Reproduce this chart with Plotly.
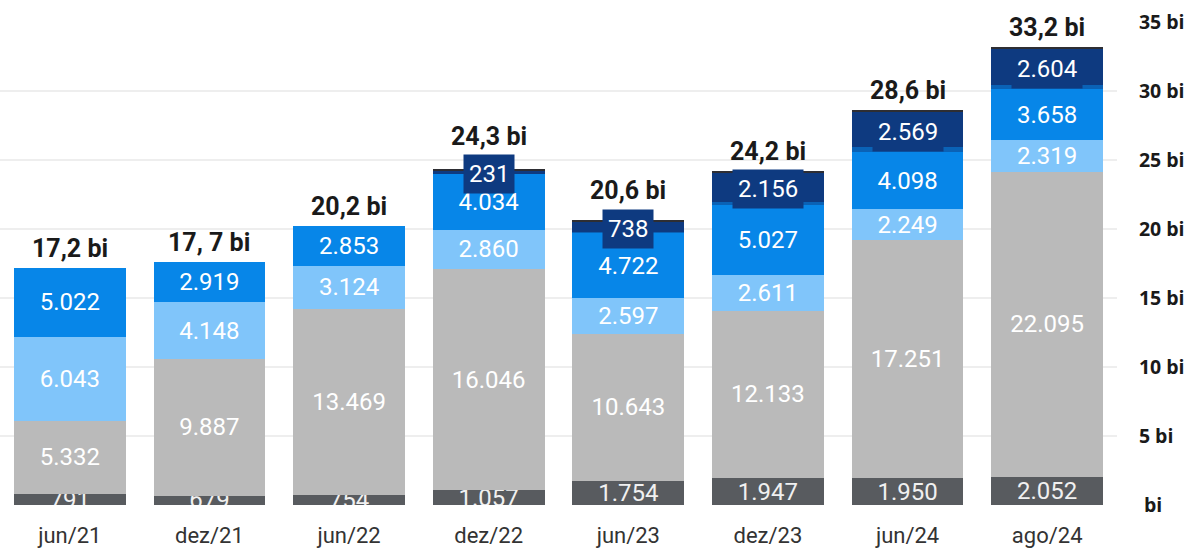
import plotly.graph_objects as go

categories = ["jun/21", "dez/21", "jun/22", "dez/22", "jun/23", "dez/23", "jun/24", "ago/24"]
# values in R$ millions
base_dark = [791, 679, 754, 1057, 1754, 1947, 1950, 2052]
light_gray = [5332, 9887, 13469, 16046, 10643, 12133, 17251, 22095]
light_blue = [6043, 4148, 3124, 2860, 2597, 2611, 2249, 2319]
blue = [5022, 2919, 2853, 4034, 4722, 5027, 4098, 3658]
mid_blue = [0, 0, 0, 20, 90, 230, 370, 340]
navy = [0, 0, 0, 231, 738, 2156, 2569, 2604]
top_line = [0, 0, 0, 50, 60, 100, 110, 130]
total_labels = ["17,2 bi", "17, 7 bi", "20,2 bi", "24,3 bi", "20,6 bi", "24,2 bi", "28,6 bi", "33,2 bi"]
tick_values = [0, 5000, 10000, 15000, 20000, 25000, 30000, 35000]
tick_labels = ["\u00a0bi", "5 bi", "10 bi", "15 bi", "20 bi", "25 bi", "30 bi", "35 bi"]

W, H = 1189, 549
M = dict(l=0, r=72, t=22, b=44)
Y_MAX = 35000
ppu = (H - M["t"] - M["b"]) / Y_MAX

VAL_FONT = dict(family="Roboto", size=24, color="#ffffff")

fig = go.Figure()

def add(vals, color, labeled=True, txtcolor="#ffffff"):
    fig.add_trace(go.Bar(
        x=categories, y=vals, marker=dict(color=color, line=dict(width=0)),
        texttemplate="%{y:,.0f}" if labeled else "",
        textposition="inside" if labeled else "none",
        insidetextanchor="middle", textangle=0,
        insidetextfont=dict(family="Roboto", size=24, color=txtcolor),
        cliponaxis=True, hoverinfo="skip", showlegend=False,
    ))

add(base_dark, "#585b5f", txtcolor="#f0f0f0")
add(light_gray, "#bababa")
add(light_blue, "#80c5fa")
add(blue, "#0786e8")
add(mid_blue, "#0a62b6", labeled=False)
add(navy, "#0e3a80", labeled=False)
add(top_line, "#2e2e33", labeled=False)

annotations = []
BOX_PAD = 5
BOX_HALF_PX = (24 * 1.1 + 2 * BOX_PAD) / 2
for i, c in enumerate(categories):
    below = base_dark[i] + light_gray[i] + light_blue[i] + blue[i] + mid_blue[i]
    total = below + navy[i] + top_line[i]
    overflow = 0
    if navy[i] > 0:
        center = below + navy[i] / 2
        annotations.append(dict(
            x=c, y=center, xref="x", yref="y", showarrow=False,
            text=f"{navy[i]:,}".replace(",", "."),
            font=VAL_FONT, bgcolor="#0e3a80", borderpad=BOX_PAD,
            xanchor="center", yanchor="middle", yshift=-2,
        ))
        box_top_px = center * ppu + BOX_HALF_PX - 2
        overflow = max(0, box_top_px - total * ppu)
    annotations.append(dict(
        x=c, y=total, xref="x", yref="y", showarrow=False,
        text=f"<b>{total_labels[i]}</b>",
        font=dict(family="Roboto", size=25, color="#1a1a1a"),
        xanchor="center", yanchor="bottom", yshift=3 + overflow,
    ))

fig.update_layout(
    width=W, height=H, margin=M,
    barmode="stack", bargap=0.2,
    separators=",.",
    plot_bgcolor="#ffffff", paper_bgcolor="#ffffff",
    uniformtext=dict(minsize=24, mode="show"),
    annotations=annotations,
    xaxis=dict(
        type="category", showgrid=False, zeroline=False, showline=False,
        automargin=False,
        tickfont=dict(family="Roboto", size=22, color="#333333"),
        ticks="outside", ticklen=11, tickcolor="rgba(0,0,0,0)",
    ),
    yaxis=dict(
        side="right", range=[0, Y_MAX], automargin=False,
        tickvals=tick_values, ticktext=tick_labels,
        tickfont=dict(family="Open Sans", size=19.5, color="#1a1a1a", weight="bold"),
        showgrid=True, gridcolor="#eeeeee", gridwidth=2,
        zeroline=False, showline=False,
        ticks="outside", ticklen=17, tickcolor="rgba(0,0,0,0)",
    ),
)

fig.write_html(
    "out.html",
    config={"displayModeBar": False},
    post_script="document.body.style.margin='0';document.body.style.overflow='hidden';",
)
